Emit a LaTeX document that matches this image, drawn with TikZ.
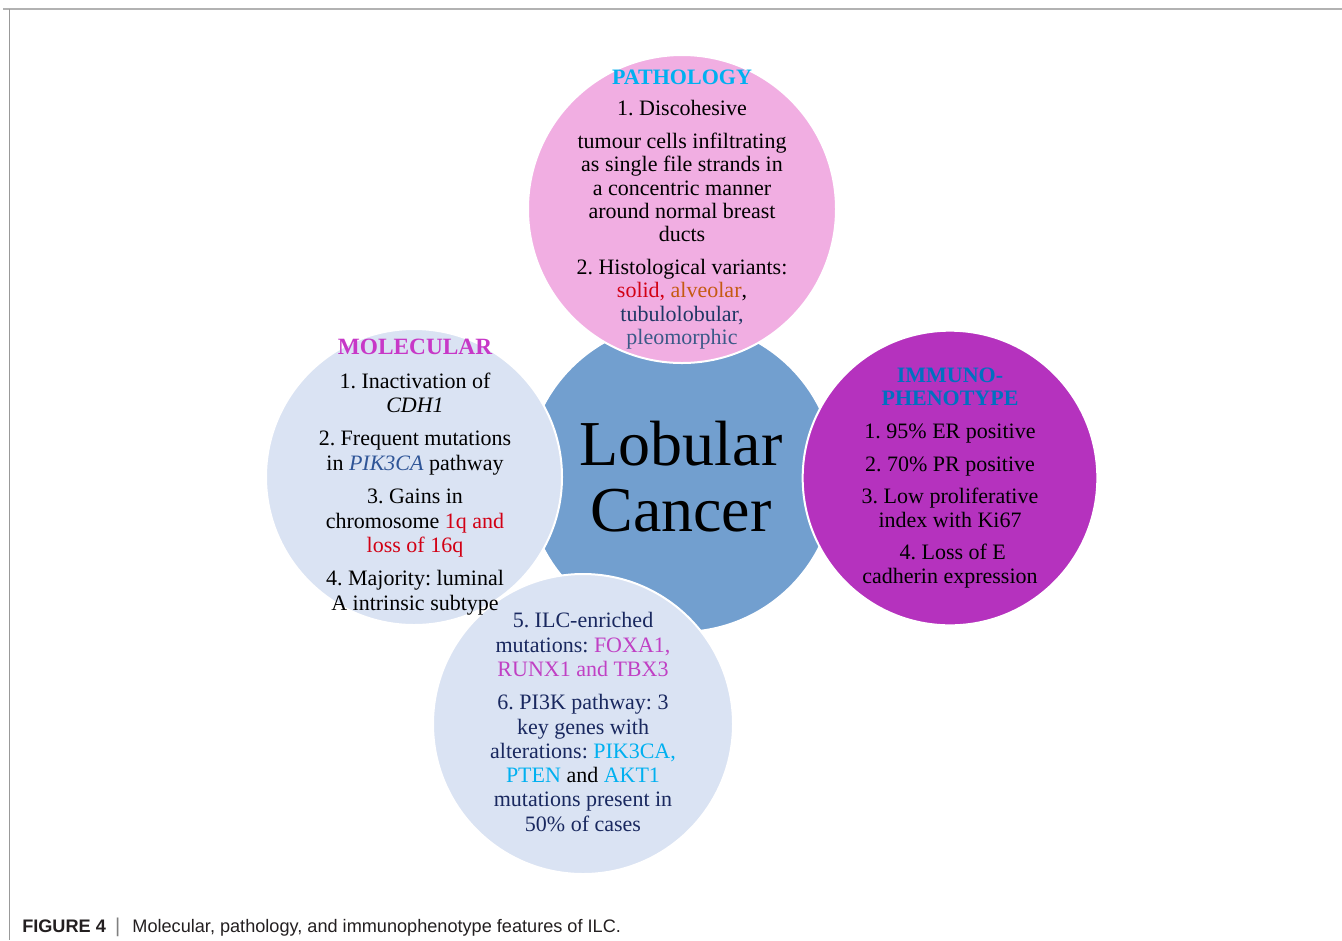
\documentclass[tikz,border=0pt]{standalone}
\usepackage{fontspec}
\setmainfont{Liberation Serif}
\newfontfamily\capfont{Liberation Sans}
\frenchspacing
\definecolor{lobblue}{RGB}{114,159,207}
\definecolor{pathpink}{RGB}{241,174,226}
\definecolor{palebl}{RGB}{218,227,243}
\definecolor{immpurple}{RGB}{181,50,190}
\definecolor{pathcyan}{RGB}{0,176,240}
\definecolor{molmag}{RGB}{199,56,199}
\definecolor{immblue}{RGB}{0,112,192}
\definecolor{varred}{RGB}{210,0,20}
\definecolor{varorange}{RGB}{197,90,17}
\definecolor{varnavy}{RGB}{31,56,100}
\definecolor{varslate}{RGB}{59,89,135}
\definecolor{pikblue}{RGB}{47,85,151}
\definecolor{mutnavy}{RGB}{25,40,95}
\definecolor{foxmag}{RGB}{192,64,196}
\definecolor{capgray}{RGB}{35,31,32}
\tikzset{
	bubble/.style={circle,draw=white,line width=1.5pt,inner sep=0pt,minimum size=225pt},
	feat/.style={align=center,inner sep=0pt,font=\fontsize{16.5}{17.5}\selectfont},
	widefeat/.style={feat,font=\fontsize{16.5}{18.2}\selectfont}
}

\begin{document}
\begin{tikzpicture}[x=0.75pt,y=-0.75pt]
	\useasboundingbox (0,0) rectangle (1342,940);
	% frame
	\draw[black!30,line width=1.5pt] (3,9) -- (1342,9);
	\draw[black!40,line width=0.75pt] (9,9) -- (9,940);
	% circles, centre one first
	\node [bubble,fill=lobblue,minimum size=232.5pt] (lob) at (681,477) {};
	\node [bubble,fill=palebl] (mut) at (583,724) {};
	\node [bubble,fill=palebl,minimum size=222pt] (mol) at (414,477) {};
	\node [bubble,fill=pathpink,minimum size=231pt] (path) at (682,209) {};
	\node [bubble,fill=immpurple,minimum size=221pt] (imm) at (950,478) {};
	% texts
	\node [font=\fontsize{48}{49.5}\selectfont,align=center] (lobtxt) at (lob) {Lobular\\Cancer};
	\node [feat] (pathtxt) at (682,209.5) {{\color{pathcyan}\bfseries PATHOLOGY}\\[6pt]
		1. Discohesive\\[7pt]
		tumour cells infiltrating\\ as single file strands in\\ a concentric manner\\ around normal breast\\ ducts\\[7pt]
		2. Histological variants:\\ {\color{varred}solid,} {\color{varorange}alveolar},\\ {\color{varnavy}tubulolobular,}\\ {\color{varslate}pleomorphic}};
	\node [widefeat] (moltxt) at (415,477) {{\color{molmag}\fontsize{17.5}{18.2}\selectfont\bfseries MOLECULAR}\\[7pt]
		1. Inactivation of\\ \textit{CDH1}\\[7pt]
		2. Frequent mutations\\ in {\color{pikblue}\itshape PIK3CA} pathway\\[7pt]
		3. Gains in\\ chromosome {\color{varred}1q and}\\ {\color{varred}loss of 16q}\\[7pt]
		4. Majority: luminal\\ A intrinsic subtype};
	\node [feat] (immtxt) at (imm) {{\color{immblue}\bfseries IMMUNO-}\\ {\color{immblue}\bfseries PHENOTYPE}\\[7pt]
		1. 95\% ER positive\\[7pt]
		2. 70\% PR positive\\[7pt]
		3. Low proliferative\\ index with Ki67\\[7pt]
		\ 4. Loss of E\\ cadherin expression};
	\node [widefeat,text=mutnavy] (muttxt) at (583,722) {5. ILC-enriched\\ mutations: {\color{foxmag}FOXA1,}\\ {\color{foxmag}RUNX1 and TBX3}\\[7pt]
		6. PI3K pathway: 3\\ key genes with\\ alterations: {\color{pathcyan}PIK3CA,}\\ {\color{pathcyan}PTEN} {\color{black}and} {\color{pathcyan}AKT1}\\ mutations present in\\ 50\% of cases};
	% caption
	\node [anchor=base west,inner sep=0pt,text=capgray,font=\capfont\fontsize{13.6}{16}\selectfont] (cap) at (22,932)
		{\textbf{FIGURE 4}\hspace{7pt}{\color{black!50}\fontsize{15}{16}\selectfont|}\hspace{9pt}Molecular, pathology, and immunophenotype features of ILC.};
\end{tikzpicture}
\end{document}
